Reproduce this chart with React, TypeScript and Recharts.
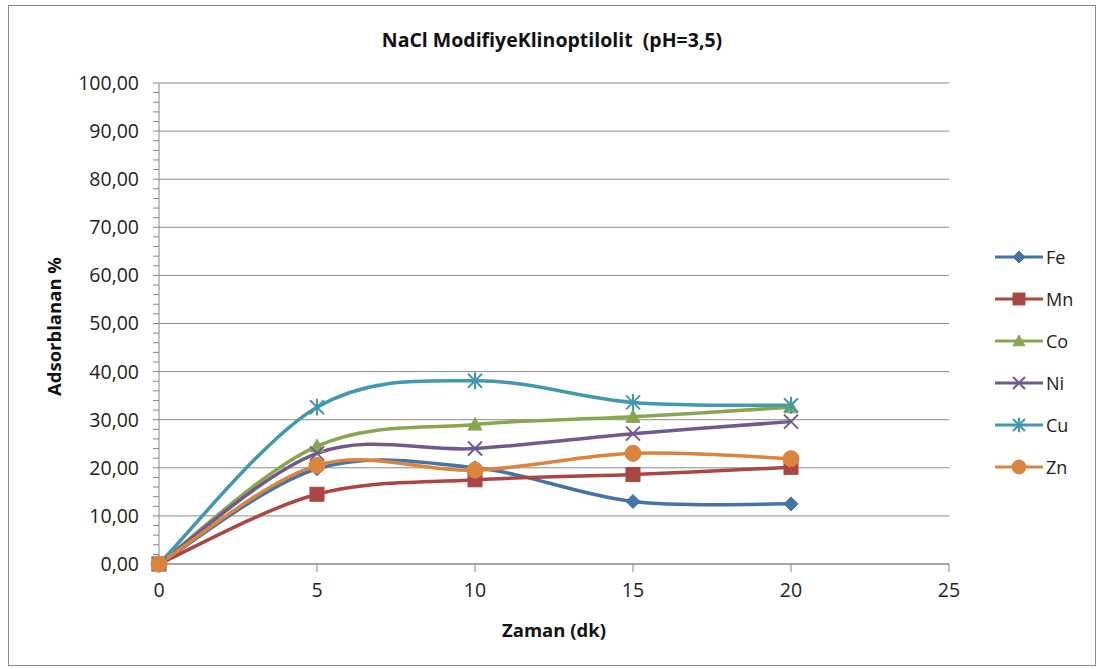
import React from 'react'
import {
  LineChart, Line, XAxis, YAxis, CartesianGrid, Legend,
} from 'recharts'

// sampling times (dk)
const times = [0, 5, 10, 15, 20]

// adsorbed percentage per metal
const fe = [0, 19.8, 20.0, 13.0, 12.5]
const mn = [0, 14.5, 17.5, 18.6, 20.1]
const co = [0, 24.5, 29.0, 30.6, 32.6]
const ni = [0, 23.0, 24.0, 27.1, 29.6]
const cu = [0, 32.6, 38.1, 33.6, 33.0]
const zn = [0, 20.5, 19.5, 23.0, 21.9]

const xTicks = [0, 5, 10, 15, 20, 25]
const yMinorTicks = Array.from({ length: 51 }, (_, i) => i * 2)
const yGridValues = [0, 10, 20, 30, 40, 50, 60, 70, 80, 90, 100]

const FONT = '"Open Sans", "Liberation Sans", sans-serif'
const AXIS = '#868686'

type MarkerKind = 'diamond' | 'square' | 'triangle' | 'x' | 'star' | 'circle'

const series: { key: string; name: string; values: number[]; color: string; marker: MarkerKind }[] = [
  { key: 'fe', name: 'Fe', values: fe, color: '#4572A7', marker: 'diamond' },
  { key: 'mn', name: 'Mn', values: mn, color: '#AA4643', marker: 'square' },
  { key: 'co', name: 'Co', values: co, color: '#89A54E', marker: 'triangle' },
  { key: 'ni', name: 'Ni', values: ni, color: '#71588F', marker: 'x' },
  { key: 'cu', name: 'Cu', values: cu, color: '#4198AF', marker: 'star' },
  { key: 'zn', name: 'Zn', values: zn, color: '#DB843D', marker: 'circle' },
]

const rows = times.map((t, i) => {
  const row: Record<string, number> = { t }
  series.forEach(s => { row[s.key] = s.values[i] })
  return row
})

// Excel-style smoothing: bezier segments with catmull-rom control points
const excelSmooth = (context: any) => {
  let pts: [number, number][] = []
  return {
    areaStart() {},
    areaEnd() {},
    lineStart() { pts = [] },
    point(x: number, y: number) { pts.push([+x, +y]) },
    lineEnd() {
      if (!pts.length) return
      context.moveTo(pts[0][0], pts[0][1])
      for (let i = 0; i < pts.length - 1; i++) {
        const p0 = pts[Math.max(i - 1, 0)]
        const p1 = pts[i]
        const p2 = pts[i + 1]
        const p3 = pts[Math.min(i + 2, pts.length - 1)]
        context.bezierCurveTo(
          p1[0] + (p2[0] - p0[0]) / 6, p1[1] + (p2[1] - p0[1]) / 6,
          p2[0] - (p3[0] - p1[0]) / 6, p2[1] - (p3[1] - p1[1]) / 6,
          p2[0], p2[1],
        )
      }
    },
  }
}

function Marker({ cx, cy, kind, color, size = 1 }: { cx: number; cy: number; kind: MarkerKind; color: string; size?: number }) {
  const r = 7 * size
  switch (kind) {
    case 'diamond':
      return <polygon points={`${cx},${cy - r} ${cx + r},${cy} ${cx},${cy + r} ${cx - r},${cy}`} fill={color} stroke={color} />
    case 'square':
      return <rect x={cx - r} y={cy - r} width={2 * r} height={2 * r} fill={color} stroke={color} />
    case 'triangle':
      return <polygon points={`${cx},${cy - r} ${cx + r},${cy + r * 0.8} ${cx - r},${cy + r * 0.8}`} fill={color} stroke={color} />
    case 'x':
      return (
        <g stroke={color} strokeWidth={2}>
          <line x1={cx - r} y1={cy - r} x2={cx + r} y2={cy + r} />
          <line x1={cx - r} y1={cy + r} x2={cx + r} y2={cy - r} />
        </g>
      )
    case 'star':
      return (
        <g stroke={color} strokeWidth={2}>
          <line x1={cx - r} y1={cy - r} x2={cx + r} y2={cy + r} />
          <line x1={cx - r} y1={cy + r} x2={cx + r} y2={cy - r} />
          <line x1={cx} y1={cy - r * 1.2} x2={cx} y2={cy + r * 1.2} />
        </g>
      )
    default:
      return <circle cx={cx} cy={cy} r={r + 1} fill={color} stroke={color} />
  }
}

function LegendBox() {
  return (
    <div style={{ fontFamily: FONT, fontSize: 18, color: '#222' }}>
      {series.map(s => (
        <div key={s.key} style={{ display: 'flex', alignItems: 'center', height: 42 }}>
          <svg width={52} height={20}>
            <line x1={1} y1={10} x2={49} y2={10} stroke={s.color} strokeWidth={3} />
            <Marker cx={25} cy={10} kind={s.marker} color={s.color} size={0.85} />
          </svg>
          <span style={{ marginLeft: 0 }}>{s.name}</span>
        </div>
      ))}
    </div>
  )
}

export default function App() {
  return (
    <div
      style={{
        position: 'absolute', left: 8, top: 5, width: 1086, height: 659,
        border: '1.5px solid #8a8a8a', background: '#fff', fontFamily: FONT,
      }}
    >
      <div
        style={{
          position: 'absolute', left: 0, right: 0, top: 20, textAlign: 'center',
          fontSize: 19.5, fontWeight: 700, color: '#111', letterSpacing: 0,
        }}
      >
        NaCl ModifiyeKlinoptilolit&nbsp;&nbsp;(pH=3,5)
      </div>
      <LineChart
        width={1086}
        height={659}
        data={rows}
        margin={{ top: 77, right: 146, bottom: 71, left: 80 }}
      >
        <CartesianGrid
          vertical={false}
          horizontalValues={yGridValues}
          stroke="#8c8c8c"
          strokeWidth={1}
        />
        <XAxis
          dataKey="t"
          type="number"
          domain={[0, 25]}
          ticks={xTicks}
          stroke={AXIS}
          tickSize={8}
          tickMargin={11}
          height={30}
          tick={{ fill: '#222', fontSize: 19.5, fontFamily: FONT }}
          label={{
            content: ({ viewBox }: any) => (
              <text
                x={viewBox.x + viewBox.width / 2}
                y={viewBox.y + 73}
                textAnchor="middle"
                fontSize={18.5}
                fontWeight={700}
                fontFamily={FONT}
                fill="#111"
              >
                Zaman (dk)
              </text>
            ),
          }}
        />
        <YAxis
          type="number"
          domain={[0, 100]}
          ticks={yMinorTicks}
          interval={0}
          width={70}
          stroke={AXIS}
          tickSize={6}
          tickMargin={14}
          tickFormatter={(v: number) => (v % 10 === 0 ? v.toFixed(2).replace('.', ',') : '')}
          tick={{ fill: '#222', fontSize: 19.5, fontFamily: FONT }}
          label={{
            content: ({ viewBox }: any) => {
              const x = 44
              const y = viewBox.y + viewBox.height / 2 + 3
              return (
                <text
                  x={x}
                  y={y}
                  transform={`rotate(-90, ${x}, ${y})`}
                  textAnchor="middle"
                  dominantBaseline="central"
                  fontSize={18.5}
                  fontWeight={700}
                  fontFamily={FONT}
                  fill="#111"
                >
                  Adsorblanan %
                </text>
              )
            },
          }}
        />
        <Legend
          layout="horizontal"
          verticalAlign="middle"
          align="center"
          wrapperStyle={{ position: 'absolute', left: 985, top: 230, width: 100 }}
          content={() => <LegendBox />}
        />
        {series.map(s => (
          <Line
            key={s.key}
            dataKey={s.key}
            name={s.name}
            type={excelSmooth as any}
            stroke={s.color}
            strokeWidth={3.5}
            isAnimationActive={false}
            dot={(p: any) => <Marker key={`${s.key}-${p.index}`} cx={p.cx} cy={p.cy} kind={s.marker} color={s.color} />}
            activeDot={false}
          />
        ))}
      </LineChart>
    </div>
  )
}
